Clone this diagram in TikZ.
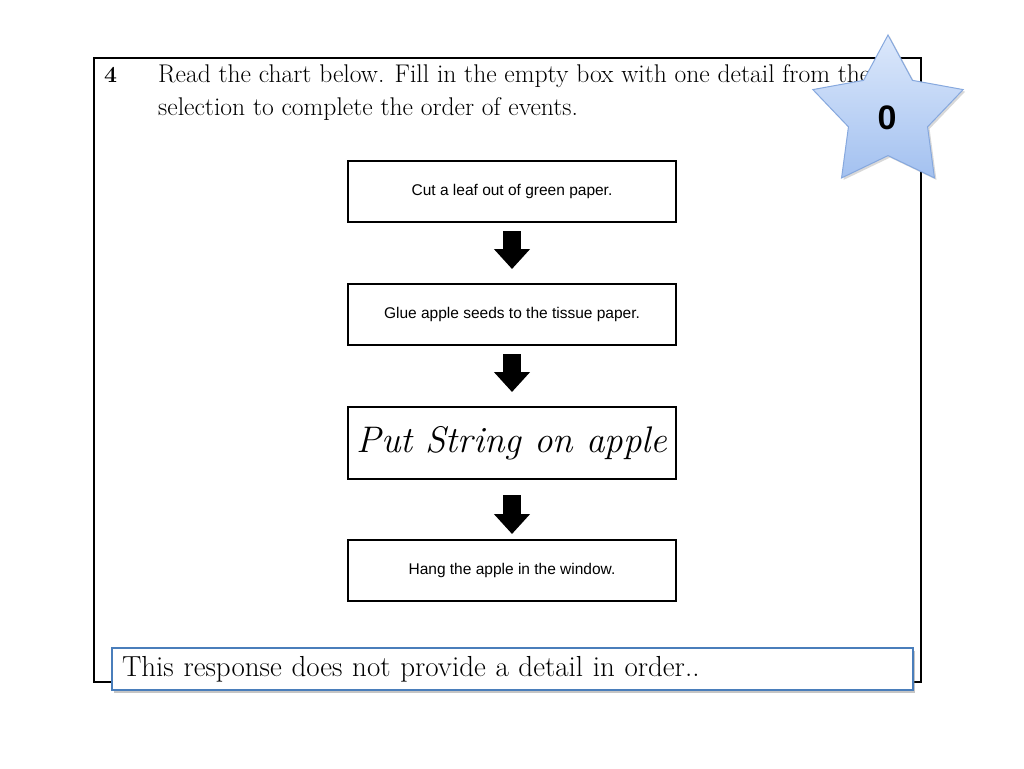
\documentclass[tikz,border=0pt]{standalone}
\usepackage{fontspec}
\newfontfamily\boxfont{Liberation Sans}
\usetikzlibrary{arrows.meta}
\usetikzlibrary{calc}
\usetikzlibrary{shapes.geometric}
\usetikzlibrary{shadows}
\definecolor{startop}{HTML}{DCE8FB}
\definecolor{starbottom}{HTML}{A3C1F0}
\definecolor{starline}{HTML}{86A8DE}
\definecolor{respblue}{HTML}{4A7EBB}

\begin{document}
\begin{tikzpicture}[x=1pt, y=-1pt,
    stepbox/.style={draw, line width=2pt, minimum width=328pt, minimum height=61pt, inner sep=0pt, font=\boxfont\fontsize{15.5}{18}\selectfont},
    flowarrow/.style={-{Triangle[width=35pt, length=20pt]}, line width=18pt}]
      \useasboundingbox (0,0) rectangle (1024,768);
      \fill[white] (0,0) rectangle (1024,768);

      \node[draw, line width=1.2pt, minimum width=827pt, minimum height=624pt, inner sep=0pt] (frame) at (507.5,370) {};
      \node[anchor=base west, inner sep=0pt, font=\fontsize{23}{33}\selectfont\bfseries] (num) at (104,82) {4};
      \node[anchor=north west, inner sep=0pt, align=left, font=\fontsize{25.6}{33}\selectfont] (question) at (158,64.5) {Read the chart below. Fill in the empty box with one detail from the\\selection to complete the order of events.};

      \node[stepbox] (leaf) at (512,191.5) {Cut a leaf out of green paper.};
      \node[stepbox] (seeds) at (512,314.5) {Glue apple seeds to the tissue paper.};
      \node[stepbox, minimum height=72pt, font=\fontsize{37}{40}\selectfont\itshape] (string) at (512,443) {Put String on apple};
      \node[stepbox] (hang) at (512,570.5) {Hang the apple in the window.};

      \draw[flowarrow] ($(leaf.south)+(0,8)$) -- ($(seeds.north)+(0,-14)$);
      \draw[flowarrow] ($(seeds.south)+(0,8)$) -- ($(string.north)+(0,-14)$);
      \draw[flowarrow] ($(string.south)+(0,15)$) -- ($(hang.north)+(0,-5)$);

      \node[draw=respblue, line width=2pt, fill=white, drop shadow={shadow xshift=2pt, shadow yshift=-3pt, opacity=0.45}, text width=781pt, align=left, inner xsep=10pt, inner ysep=0pt, minimum height=42pt, font=\fontsize{29}{32}\selectfont] (response) at (512.5,669) {This response does not provide a detail in order..};

      \node[star, star points=5, star point ratio=1.9, minimum size=158pt, inner sep=0pt, draw=starline, line width=1pt, top color=startop, bottom color=starbottom, drop shadow={shadow xshift=2pt, shadow yshift=-2pt, opacity=0.3}] (star) at (888,114) {};
      \node[font=\boxfont\fontsize{34}{36}\selectfont\bfseries, inner sep=0pt] (score) at ($(star.center)+(-1,3.5)$) {0};
    \end{tikzpicture}
\end{document}
